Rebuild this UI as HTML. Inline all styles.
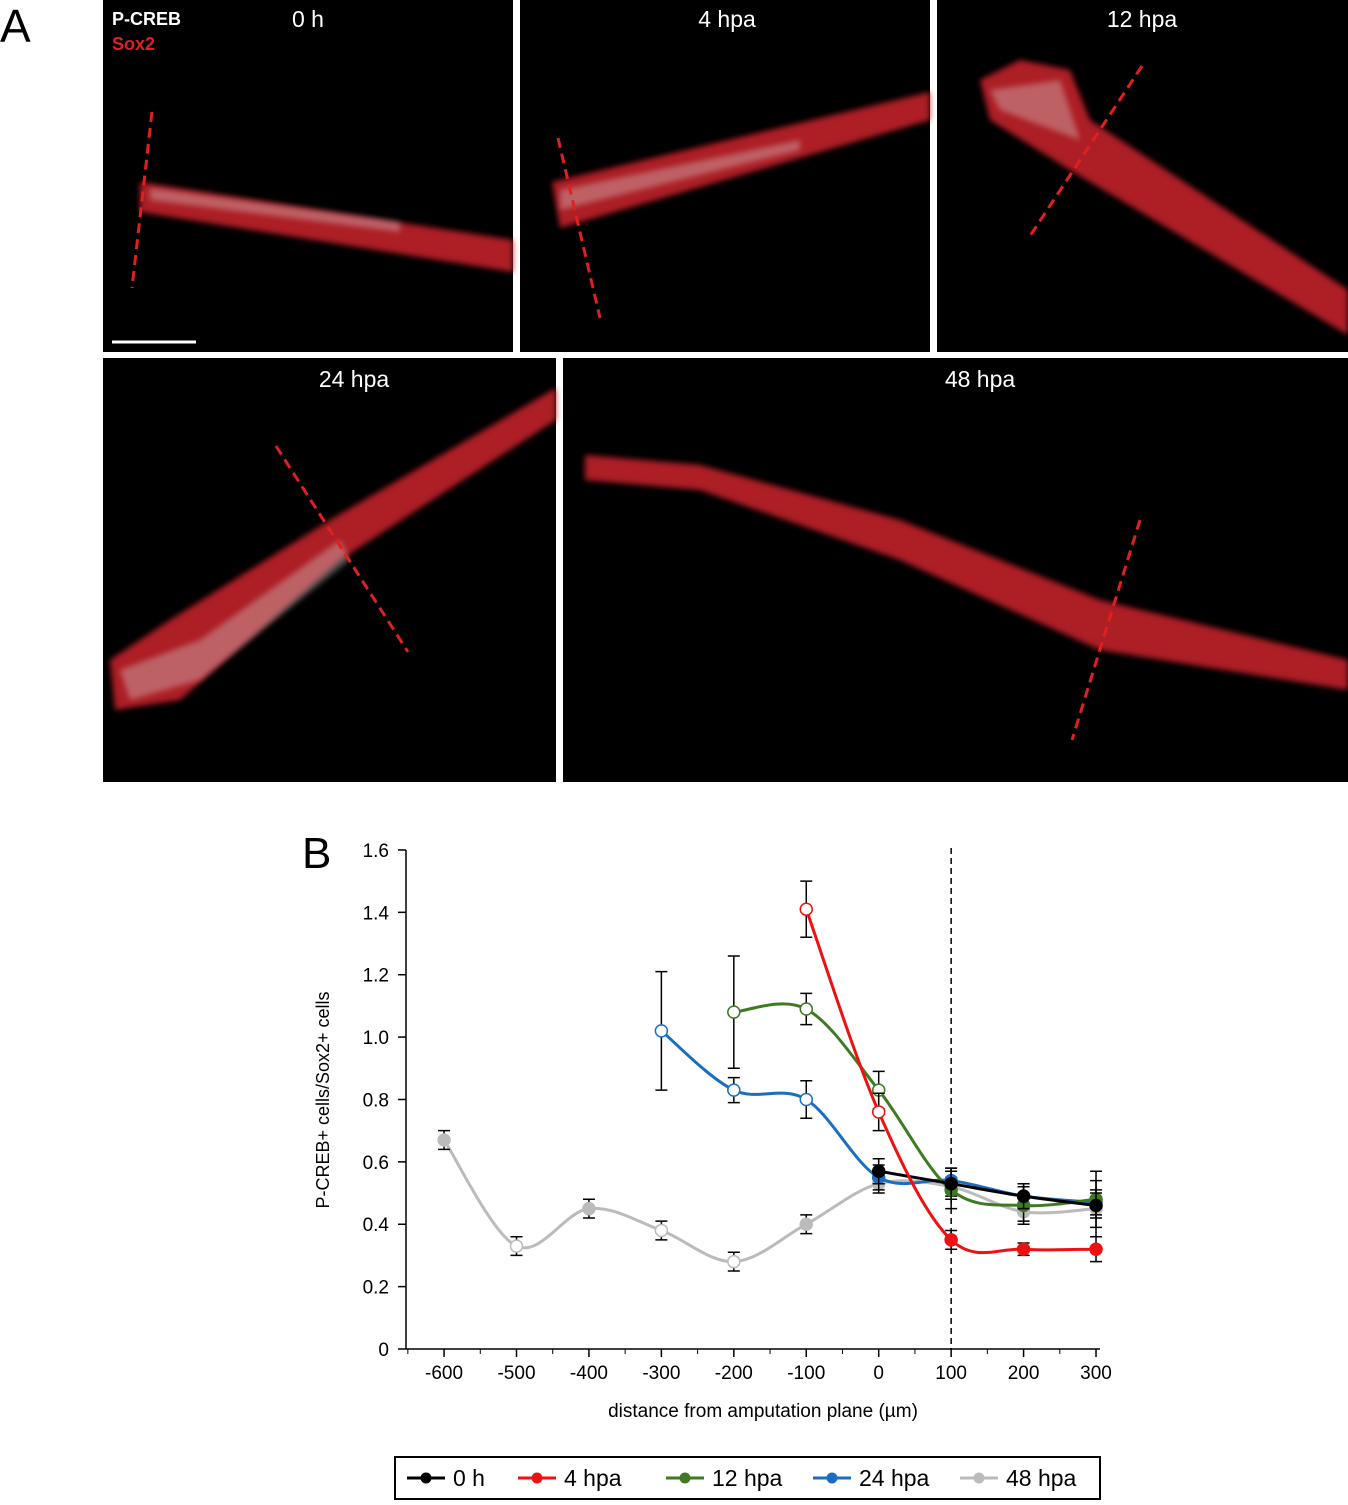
<!DOCTYPE html>
<html><head><meta charset="utf-8"><style>
body{margin:0;background:#fff;width:1348px;height:1500px;overflow:hidden;font-family:"Liberation Sans",sans-serif}
svg text{font-family:"Liberation Sans",sans-serif}
</style></head><body>
<svg id="fig" width="1348" height="1500" xmlns="http://www.w3.org/2000/svg">
<defs><filter id="bl"><feGaussianBlur stdDeviation="3"/></filter></defs>
<g>
<text x="0" y="42" font-size="46">A</text>
<rect x="103" y="0" width="410" height="352" fill="#000"/>
<rect x="520" y="0" width="410" height="352" fill="#000"/>
<rect x="937" y="0" width="411" height="352" fill="#000"/>
<rect x="103" y="358" width="453" height="424" fill="#000"/>
<rect x="563" y="358" width="785" height="424" fill="#000"/>
<g filter="url(#bl)" fill="#c0202a" opacity="0.9">
<polygon points="140,182 513,240 513,272 140,212"/>
<polygon points="552,182 930,92 930,120 560,228"/>
<polygon points="980,80 1020,60 1070,70 1090,120 1348,290 1348,335 1070,170 990,120"/>
<polygon points="556,388 556,420 340,560 180,700 115,710 110,660 170,620 330,520"/>
<polygon points="585,455 700,465 900,520 1100,600 1348,660 1348,690 1100,650 900,560 700,490 585,480"/>
</g>
<g fill="#ddd" opacity="0.35" filter="url(#bl)">
<polygon points="150,188 400,222 400,232 150,200"/>
<polygon points="560,190 800,140 800,150 560,210"/>
<polygon points="990,90 1060,80 1080,140 1000,110"/>
<polygon points="120,670 200,640 340,540 350,560 200,680 130,700"/>
</g>
<g stroke="#e02020" stroke-width="3" stroke-dasharray="10,6" fill="none">
<line x1="152" y1="112" x2="132" y2="288"/>
<line x1="558" y1="138" x2="600" y2="318"/>
<line x1="1142" y1="66" x2="1030" y2="236"/>
<line x1="276" y1="446" x2="408" y2="652"/>
<line x1="1140" y1="520" x2="1072" y2="740"/>
</g>
<line x1="112" y1="342" x2="196" y2="342" stroke="#fff" stroke-width="3"/>
<g fill="#fff" font-size="23">
<text x="112" y="25" font-size="18" font-weight="bold">P-CREB</text>
<text x="112" y="50" font-size="18" font-weight="bold" fill="#e02020">Sox2</text>
<text x="308" y="27" text-anchor="middle">0 h</text>
<text x="727" y="27" text-anchor="middle">4 hpa</text>
<text x="1142" y="27" text-anchor="middle">12 hpa</text>
<text x="354" y="387" text-anchor="middle">24 hpa</text>
<text x="980" y="387" text-anchor="middle">48 hpa</text>
</g>
</g>
<text x="302" y="868" font-size="44">B</text>
<g id="chart"></g>
</svg>
<script>
const xTicks=[-600,-500,-400,-300,-200,-100,0,100,200,300];
const yTicks=[0,0.2,0.4,0.6,0.8,1.0,1.2,1.4,1.6];
const seriesNames=["0 h","4 hpa","12 hpa","24 hpa","48 hpa"];
const seriesColors=["#000","#ee1111","#3d7a22","#1a6ec2","#bbbbbb"];
const x0h=[0,100,200,300];
const y0h=[0.57,0.53,0.49,0.46];
const e0h=[0.04,0.05,0.04,0.04];
const o0h=[0,0,0,0];
const x4=[-100,0,100,200,300];
const y4=[1.41,0.76,0.35,0.32,0.32];
const e4=[0.09,0.06,0.03,0.02,0.04];
const o4=[1,1,0,0,0];
const x12=[-200,-100,0,100,200,300];
const y12=[1.08,1.09,0.83,0.51,0.46,0.48];
const e12=[0.18,0.05,0.06,0.06,0.06,0.09];
const o12=[1,1,1,0,0,0];
const x24=[-300,-200,-100,0,100,200,300];
const y24=[1.02,0.83,0.80,0.55,0.54,0.49,0.47];
const e24=[0.19,0.04,0.06,0.04,0.04,0.04,0.04];
const o24=[1,1,1,0,0,0,0];
const x48=[-600,-500,-400,-300,-200,-100,0,100,200,300];
const y48=[0.67,0.33,0.45,0.38,0.28,0.40,0.53,0.52,0.44,0.45];
const e48=[0.03,0.03,0.03,0.03,0.03,0.03,0.03,0.03,0.03,0.09];
const o48=[0,1,0,1,1,0,0,0,0,0];
const X=v=>878.7+v*0.7244;
const Y=v=>1349-v*311.9;
const NS="http://www.w3.org/2000/svg";
const g=document.getElementById('chart');
function mk(t,a,p){const e=document.createElementNS(NS,t);for(const k in a)e.setAttribute(k,a[k]);(p||g).appendChild(e);return e;}
let ax=mk('line',{x1:406,y1:850,x2:406,y2:1349,stroke:'#000','stroke-width':1.5});


let bx=mk('line',{x1:406,y1:1349,x2:1100,y2:1349,stroke:'#000','stroke-width':1.5});


yTicks.forEach(v=>{mk('line',{x1:398,x2:406,y1:Y(v),y2:Y(v),stroke:'#000','stroke-width':1.5});
const t=mk('text',{x:389,y:Y(v)+7,'text-anchor':'end','font-size':19});t.textContent=(v===0?'0':v.toFixed(1));

});
xTicks.forEach(v=>{mk('line',{x1:X(v),x2:X(v),y1:1349,y2:1357,stroke:'#000','stroke-width':1.5});
const t=mk('text',{x:X(v),y:1379,'text-anchor':'middle','font-size':19});t.textContent=v;

});
for(let v=-650;v<=300;v+=50){if(v%100)mk('line',{x1:X(v),x2:X(v),y1:1349,y2:1354,stroke:'#000'});}
let yt=mk('text',{x:0,y:0,transform:'translate(329,1100) rotate(-90)','text-anchor':'middle','font-size':18});yt.textContent='P-CREB+ cells/Sox2+ cells';


let xt=mk('text',{x:763,y:1417,'text-anchor':'middle','font-size':19});xt.textContent='distance from amputation plane (µm)';


let dl=mk('line',{x1:X(100),x2:X(100),y1:848,y2:1349,stroke:'#000','stroke-width':1.5,'stroke-dasharray':'6,4'});


const S=[[x0h,y0h,e0h,o0h],[x4,y4,e4,o4],[x12,y12,e12,o12],[x24,y24,e24,o24],[x48,y48,e48,o48]];
const order=[4,3,2,0,1];
function spline(P){let d=`M${P[0][0]},${P[0][1]}`;for(let i=0;i<P.length-1;i++){const p0=P[i-1]||P[i],p1=P[i],p2=P[i+1],p3=P[i+2]||p2;const c1=[p1[0]+(p2[0]-p0[0])/6,p1[1]+(p2[1]-p0[1])/6],c2=[p2[0]-(p3[0]-p1[0])/6,p2[1]-(p3[1]-p1[1])/6];d+=`C${c1[0]},${c1[1]} ${c2[0]},${c2[1]} ${p2[0]},${p2[1]}`;}return d;}
order.forEach(si=>{const [xs,ys,es,os]=S[si];const c=seriesColors[si];
const sg=mk('g',{});


const P=xs.map((x,i)=>[X(x),Y(ys[i])]);
mk('path',{d:spline(P),fill:'none',stroke:c,'stroke-width':3},sg);
xs.forEach((x,i)=>{const cx=X(x),t=Y(ys[i]+es[i]),b=Y(ys[i]-es[i]);
mk('path',{d:`M${cx},${t}V${b}M${cx-6},${t}H${cx+6}M${cx-6},${b}H${cx+6}`,stroke:'#000','stroke-width':1.5,fill:'none'},sg);
const p=mk('circle',{cx:cx,cy:Y(ys[i]),r:6,fill:os[i]?'#fff':c,stroke:c,'stroke-width':1.5},sg);

});});
const lg=mk('g',{});


mk('rect',{x:395,y:1457,width:705,height:42,fill:'#fff',stroke:'#000','stroke-width':2},lg);
const lx=[407,518,666,813,960];
seriesNames.forEach((n,i)=>{const e=mk('g',{},lg);


mk('line',{x1:lx[i],x2:lx[i]+38,y1:1478,y2:1478,stroke:seriesColors[i],'stroke-width':3},e);
mk('circle',{cx:lx[i]+19,cy:1478,r:5.5,fill:seriesColors[i]},e);
const t=mk('text',{x:lx[i]+46,y:1486,'font-size':23},e);t.textContent=n;});
</script>
</body></html>
